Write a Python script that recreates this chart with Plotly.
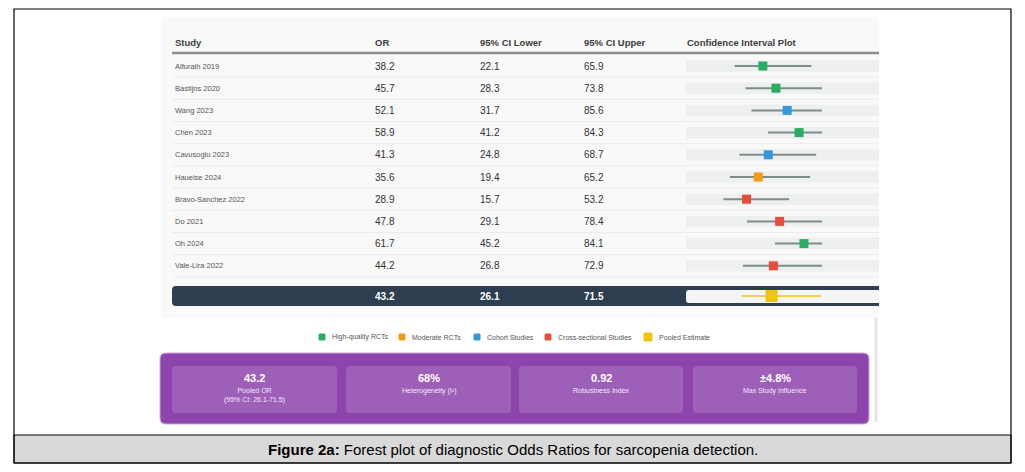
import plotly.graph_objects as go

# Study-level diagnostic odds ratios
studies = ['Alfuraih 2019', 'Bastijns 2020', 'Wang 2023', 'Chen 2023', 'Cavusoglu 2023',
           'Haueise 2024', 'Bravo-Sanchez 2022', 'Do 2021', 'Oh 2024', 'Vale-Lira 2022']
odds_ratio = [38.2, 45.7, 52.1, 58.9, 41.3, 35.6, 28.9, 47.8, 61.7, 44.2]
ci_lower = [22.1, 28.3, 31.7, 41.2, 24.8, 19.4, 15.7, 29.1, 45.2, 26.8]
ci_upper = [65.9, 73.8, 85.6, 84.3, 68.7, 65.2, 53.2, 78.4, 84.1, 72.9]
study_type = ['High-quality RCTs', 'High-quality RCTs', 'Cohort Studies', 'High-quality RCTs',
              'Cohort Studies', 'Moderate RCTs', 'Cross-sectional Studies',
              'Cross-sectional Studies', 'High-quality RCTs', 'Cross-sectional Studies']

pooled_or = 43.2
pooled_lower = 26.1
pooled_upper = 71.5

headers = ['Study', 'OR', '95% CI Lower', '95% CI Upper', 'Confidence Interval Plot']

legend_labels = ['High-quality RCTs', 'Moderate RCTs', 'Cohort Studies',
                 'Cross-sectional Studies', 'Pooled Estimate']
legend_colors = ['#27ae60', '#f39c12', '#3498db', '#e74c3c', '#f1c40f']
type_color = dict(zip(legend_labels, legend_colors))

summary_values = ['43.2', '68%', '0.92', '±4.8%']
summary_labels = ['Pooled OR<br>(95% CI: 26.1-71.5)', 'Heterogeneity (I²)',
                  'Robustness Index', 'Max Study Influence']

caption = '<b>Figure 2a:</b> Forest plot of diagnostic Odds Ratios for sarcopenia detection.'

# page geometry: window pixels, the page body keeps its default 8px margin
PAGE_W, PAGE_H, BODY = 1025, 472, 8
W, H = PAGE_W - 2 * BODY, PAGE_H - 2 * BODY
ROW_TOP, ROW_STEP = 66, 22.2
POOLED_ROW = (296 - ROW_TOP) / ROW_STEP
FONT = 'Liberation Sans, Arial, sans-serif'


def px(x):
    return (x - BODY) / W


def py(y):
    return 1 - (y - BODY) / H


def rounded(x0, y0, x1, y1, r):
    return (f'M {px(x0 + r)},{py(y0)} L {px(x1 - r)},{py(y0)} '
            f'Q {px(x1)},{py(y0)} {px(x1)},{py(y0 + r)} L {px(x1)},{py(y1 - r)} '
            f'Q {px(x1)},{py(y1)} {px(x1 - r)},{py(y1)} L {px(x0 + r)},{py(y1)} '
            f'Q {px(x0)},{py(y1)} {px(x0)},{py(y1 - r)} L {px(x0)},{py(y0 + r)} '
            f'Q {px(x0)},{py(y0)} {px(x0 + r)},{py(y0)} Z')


def box(x0, y0, x1, y1, fill, line=None, width=0, layer='below'):
    return dict(type='rect', xref='paper', yref='paper', x0=px(x0), x1=px(x1),
                y0=py(y1), y1=py(y0), fillcolor=fill, layer=layer,
                line=dict(color=line or fill, width=width))


rows = list(range(len(studies)))

# CI whiskers
line_x, line_y = [], []
for i in rows:
    line_x += [ci_lower[i], ci_upper[i], None]
    line_y += [i, i, None]

data = [
    go.Scatter(x=line_x, y=line_y, mode='lines', line=dict(color='#7f8c8d', width=2),
               hoverinfo='skip'),
    go.Scatter(x=[pooled_lower, pooled_upper], y=[POOLED_ROW, POOLED_ROW], mode='lines',
               line=dict(color='#f1c40f', width=1.5), hoverinfo='skip'),
    go.Scatter(x=odds_ratio, y=rows, mode='markers', text=studies,
               marker=dict(symbol='square', size=9, color=[type_color[t] for t in study_type],
                           line=dict(width=0))),
    go.Scatter(x=[pooled_or], y=[POOLED_ROW], mode='markers',
               marker=dict(symbol='square', size=12, color='#f1c40f', line=dict(width=0))),
]

shapes = [
    box(161, 17, 879, 318, '#f9f9f9'),
    dict(type='line', xref='paper', yref='paper', x0=px(172), x1=px(879), y0=py(53), y1=py(53),
         line=dict(color='#8a8f92', width=2.5), layer='below'),
    dict(type='path', path=rounded(172, 286, 900, 306, 4), xref='paper', yref='paper',
         fillcolor='#2c3e50', line=dict(width=0), layer='below'),
    dict(type='path', path=rounded(686, 290, 900, 303, 3), xref='paper', yref='paper',
         fillcolor='#f4f6f6', line=dict(width=0), layer='below'),
    box(879, 17, 1010, 318, 'white'),
    box(874.5, 318, 877.5, 422, '#e4e4e4'),
    dict(type='path', path=rounded(160, 353, 869, 424, 6), xref='paper', yref='paper',
         fillcolor='#8e44ad', line=dict(color='#c9a6da', width=1), layer='below'),
    box(14, 435, 1011, 463, '#d9d9d9', 'black', 1),
    box(14, 9, 1011, 463, 'rgba(0,0,0,0)', 'black', 1.2, 'above'),
]

for i in rows:
    shapes.append(dict(type='line', xref='paper', yref='y', x0=px(172), x1=px(879),
                       y0=i + 0.5, y1=i + 0.5, line=dict(color='#ececec', width=1),
                       layer='below'))
    shapes.append(dict(type='rect', xref='paper', yref='y', x0=px(686), x1=px(879),
                       y0=i - 0.26, y1=i + 0.26, fillcolor='#edf0ee', line=dict(width=0),
                       layer='below'))

annotations = []
col_x = [173, 373, 478, 582, 685]
for x, h in zip(col_x, headers):
    annotations.append(dict(x=px(x), y=py(42), xref='paper', yref='paper', text=f'<b>{h}</b>',
                            showarrow=False, xanchor='left', yanchor='middle',
                            font=dict(family=FONT, size=9.5, color='#3d3d3d')))

for i in rows:
    annotations.append(dict(x=px(173), y=i, xref='paper', yref='y', text=studies[i],
                            showarrow=False, xanchor='left', yanchor='middle',
                            font=dict(family=FONT, size=7.5, color='#555555')))
    for x, v in zip(col_x[1:4], [odds_ratio[i], ci_lower[i], ci_upper[i]]):
        annotations.append(dict(x=px(x), y=i, xref='paper', yref='y', text=f'{v}',
                                showarrow=False, xanchor='left', yanchor='middle',
                                font=dict(family=FONT, size=10, color='#333333')))

for x, v in zip(col_x[1:4], [pooled_or, pooled_lower, pooled_upper]):
    annotations.append(dict(x=px(x), y=POOLED_ROW, xref='paper', yref='y', text=f'<b>{v}</b>',
                            showarrow=False, xanchor='left', yanchor='middle',
                            font=dict(family=FONT, size=10, color='white')))

# legend row
legend_x = [322, 402, 477, 548, 648]
for x, lab, col in zip(legend_x, legend_labels, legend_colors):
    s = 9 if lab == 'Pooled Estimate' else 7
    shapes.append(dict(type='path', path=rounded(x - s / 2, 337 - s / 2, x + s / 2, 337 + s / 2, 1.5),
                       xref='paper', yref='paper', fillcolor=col, line=dict(width=0)))
    annotations.append(dict(x=px(x + s / 2 + 4), y=py(337), xref='paper', yref='paper', text=lab,
                            showarrow=False, xanchor='left', yanchor='middle',
                            font=dict(family=FONT, size=7, color='#555555')))

# summary boxes
box_x = [(172, 337), (346, 511), (519, 683), (693, 857)]
for (x0, x1), val, lab in zip(box_x, summary_values, summary_labels):
    shapes.append(dict(type='path', path=rounded(x0, 366, x1, 413, 4), xref='paper', yref='paper',
                       fillcolor='rgba(255,255,255,0.15)', line=dict(width=0), layer='below'))
    cx = px((x0 + x1) / 2)
    annotations.append(dict(x=cx, y=py(378), xref='paper', yref='paper', text=f'<b>{val}</b>',
                            showarrow=False, xanchor='center', yanchor='middle',
                            font=dict(family=FONT, size=11, color='white')))
    annotations.append(dict(x=cx, y=py(385), xref='paper', yref='paper', text=lab,
                            showarrow=False, xanchor='center', yanchor='top',
                            font=dict(family=FONT, size=7, color='#f3e8f8')))

annotations.append(dict(x=px(512.5), y=py(449.5), xref='paper', yref='paper', text=caption,
                        showarrow=False, xanchor='center', yanchor='middle',
                        font=dict(family=FONT, size=15, color='black')))

layout = go.Layout(
    width=W, height=H, margin=dict(l=0, r=0, t=0, b=0),
    paper_bgcolor='white', plot_bgcolor='rgba(0,0,0,0)', showlegend=False,
    xaxis=dict(domain=[px(686), px(822)], range=[-5.7, 72], visible=False, fixedrange=True),
    yaxis=dict(domain=[0, 1],
               range=[(BODY + H - ROW_TOP) / ROW_STEP, (BODY - ROW_TOP) / ROW_STEP],
               visible=False, fixedrange=True),
    shapes=shapes, annotations=annotations,
)

fig = go.Figure(data=data, layout=layout)
fig.write_html('out.html')
